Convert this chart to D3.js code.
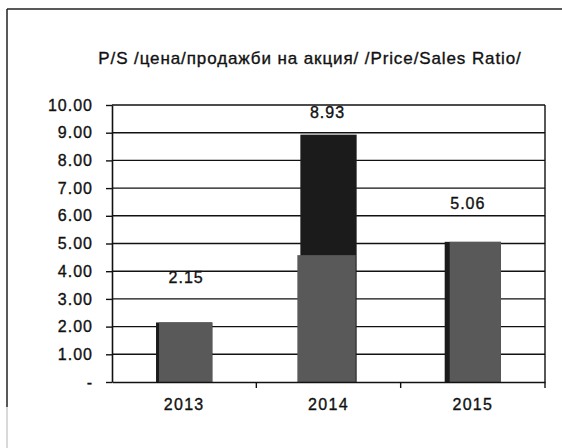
<!DOCTYPE html>
<meta charset="utf-8">
<style>
    body { margin: 0; background: #fff; }
    text { font-family: "Liberation Sans", Arial, sans-serif; fill: #111; stroke: #111; stroke-width: 0.35px; }
    .grid line { stroke: #111; stroke-width: 1.4; }
</style>
<body>
<div id="chart"></div>
<script src="https://cdn.jsdelivr.net/npm/d3@7"></script>
<script>
    // data
    var years = ["2013", "2014", "2015"];
    var psRatio = [2.15, 8.93, 5.06];
    // lighter (grey) lower part of each bar as it shows in the scan
    var greyPart = [2.15, 4.58, 5.06];
    var yTicks = [0, 1, 2, 3, 4, 5, 6, 7, 8, 9, 10];
    var title = "P/S /цена/продажби на акция/ /Price/Sales Ratio/";

    // layout only
    var labelGap = [39, 17, 33];
    var labelShift = [2, -1, -5];
    var darkEdge = [3, 0, 5];

    var W = 562, H = 448;
    var margin = { top: 105, right: 17, bottom: 66, left: 112 };
    var width = W - margin.left - margin.right,
        height = H - margin.top - margin.bottom;

    var svg = d3.select("#chart").append("svg")
        .attr("width", W)
        .attr("height", H);

    // outer frame (only top and left survive in the scan)
    svg.append("line").attr("x1", 7).attr("x2", 562).attr("y1", 9).attr("y2", 9)
        .attr("stroke", "#222").attr("stroke-width", 1.5);
    svg.append("line").attr("x1", 7).attr("x2", 7).attr("y1", 9).attr("y2", 407)
        .attr("stroke", "#222").attr("stroke-width", 1.5);
    svg.append("line").attr("x1", 7).attr("x2", 7).attr("y1", 407).attr("y2", 448)
        .attr("stroke", "#ccc").attr("stroke-width", 1.5);

    svg.append("text")
        .attr("x", 310)
        .attr("y", 64)
        .attr("text-anchor", "middle")
        .style("font-size", "17px")
        .style("letter-spacing", "0.9px")
        .text(title);

    var g = svg.append("g")
        .attr("transform", "translate(" + margin.left + "," + margin.top + ")");

    var x = d3.scaleBand().domain(years).range([0, width])
        .paddingInner(0.61).paddingOuter(0.305);
    var y = d3.scaleLinear().domain([0, 10]).range([height, 0]);

    // horizontal grid
    g.append("g").attr("class", "grid")
        .selectAll("line")
        .data(yTicks.slice(1))
        .enter().append("line")
        .attr("x1", 0).attr("x2", width)
        .attr("y1", function (d) { return y(d); })
        .attr("y2", function (d) { return y(d); });

    // right edge of plot area
    g.append("line").attr("x1", width).attr("x2", width).attr("y1", 0).attr("y2", height + 6)
        .attr("stroke", "#111").attr("stroke-width", 1.4);

    // bars
    var bars = g.selectAll(".bar")
        .data(years)
        .enter().append("g").attr("class", "bar");

    bars.append("rect")
        .attr("x", function (d) { return x(d); })
        .attr("width", x.bandwidth())
        .attr("y", function (d, i) { return y(psRatio[i]); })
        .attr("height", function (d, i) { return height - y(psRatio[i]); })
        .attr("fill", "#1b1b1b");

    bars.append("rect")
        .attr("x", function (d, i) { return x(d) + darkEdge[i] - (i === 1 ? 3 : 0); })
        .attr("width", function (d, i) { return x.bandwidth() - darkEdge[i] + (i === 1 ? 2 : 0); })
        .attr("y", function (d, i) { return y(greyPart[i]); })
        .attr("height", function (d, i) { return height - y(greyPart[i]); })
        .attr("fill", "#595959");

    // value labels
    g.selectAll(".vlabel")
        .data(years)
        .enter().append("text")
        .attr("class", "vlabel")
        .attr("x", function (d, i) { return x(d) + x.bandwidth() / 2 + labelShift[i]; })
        .attr("y", function (d, i) { return y(psRatio[i]) - labelGap[i]; })
        .attr("text-anchor", "middle")
        .style("font-size", "16px")
        .style("letter-spacing", "1px")
        .text(function (d, i) { return psRatio[i].toFixed(2); });

    // y axis
    var yAxis = g.append("g")
        .call(d3.axisLeft(y).tickValues(yTicks).tickSize(6).tickSizeOuter(0)
            .tickFormat(function (d) { return d === 0 ? "-" : d.toFixed(2); }));
    yAxis.select(".domain").attr("stroke", "#111").attr("stroke-width", 1.6);
    yAxis.selectAll(".tick line").attr("stroke", "#111").attr("stroke-width", 1.4);
    yAxis.selectAll("text")
        .attr("x", -19)
        .style("font-size", "16px")
        .style("letter-spacing", "1px")
        .style("font-family", "Liberation Sans, Arial, sans-serif")
        .attr("fill", "#111");

    // x axis
    var xAxis = g.append("g")
        .attr("transform", "translate(0," + height + ")")
        .call(d3.axisBottom(x).tickSize(0).tickPadding(17));
    xAxis.select(".domain").attr("stroke", "#111").attr("stroke-width", 1.6);
    xAxis.selectAll("text")
        .style("font-size", "16px")
        .style("letter-spacing", "1.3px")
        .style("font-family", "Liberation Sans, Arial, sans-serif")
        .attr("fill", "#111");

    // tick marks between categories
    g.selectAll(".xtick")
        .data(years.slice(1))
        .enter().append("line")
        .attr("x1", function (d) { return x(d) - x.step() * x.paddingOuter(); })
        .attr("x2", function (d) { return x(d) - x.step() * x.paddingOuter(); })
        .attr("y1", height).attr("y2", height + 6)
        .attr("stroke", "#111").attr("stroke-width", 1.4);
</script>
</body>
